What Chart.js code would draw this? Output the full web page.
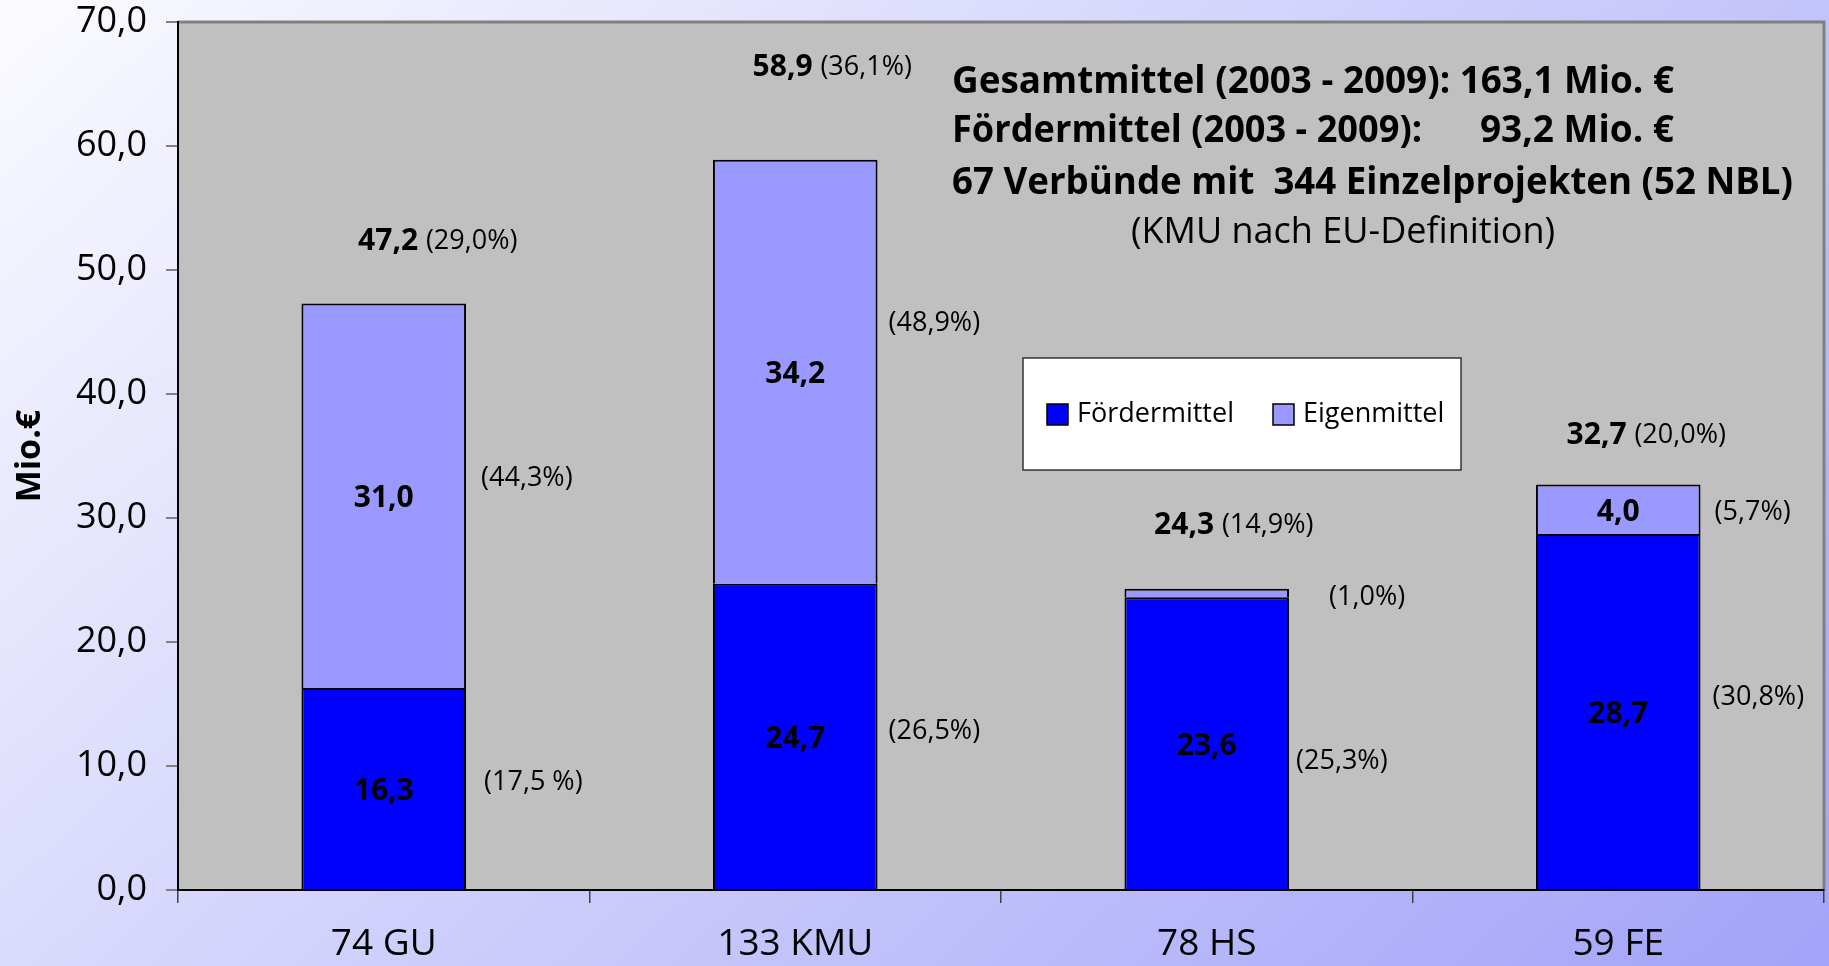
<!DOCTYPE html>
<html>
<head>
<meta charset="utf-8">
<script src="https://cdn.jsdelivr.net/npm/chart.js@4/dist/chart.umd.min.js"></script>
<style>
  html, body { margin: 0; padding: 0; overflow: hidden; }
  canvas { display: block; }
</style>
</head>
<body>
<canvas id="mittel" width="1829" height="966"></canvas>
<script>
// values in Mio. €
const categories = ['74 GU', '133 KMU', '78 HS', '59 FE'];
const foerdermittel = [16.3, 24.7, 23.6, 28.7];
const eigenmittel = [31.0, 34.2, 0.7, 4.0];
const totals = [47.2, 58.9, 24.3, 32.7];
const totalShare = ['(29,0%)', '(36,1%)', '(14,9%)', '(20,0%)'];
const foerderShare = ['(17,5 %)', '(26,5%)', '(25,3%)', '(30,8%)'];
const eigenShare = ['(44,3%)', '(48,9%)', '(1,0%)', '(5,7%)'];
const yMax = 70;
const yStep = 10;

// label placement tweaks (px)
const totalOffset = [[54, -62], [37, -92], [27, -63], [28, -49]];
const foerderPctOffset = [[18, -6], [11, -5], [7, 18], [12, -14]];
const eigenPctOffset = [[15, -17], [11, -48], [40, 4], [14, 3]];
const innerNudge = 3;

const FONT = '"Open Sans", "Noto Sans", sans-serif';
const fmt = v => v.toFixed(1).replace('.', ',');

const background = {
  id: 'background',
  beforeDraw(chart) {
    const {ctx, width, height, chartArea: a} = chart;
    ctx.save();
    const g = ctx.createLinearGradient(0, 0, 1508, 1659);
    g.addColorStop(0, '#fbfbff');
    g.addColorStop(1, '#9595f8');
    ctx.fillStyle = g;
    ctx.fillRect(0, 0, width, height);
    ctx.fillStyle = '#c0c0c0';
    ctx.fillRect(a.left, a.top, a.right - a.left, a.bottom - a.top);
    ctx.strokeStyle = '#808080';
    ctx.lineWidth = 3;
    ctx.beginPath();
    ctx.moveTo(a.left, a.top);
    ctx.lineTo(a.right, a.top);
    ctx.lineTo(a.right, a.bottom);
    ctx.stroke();
    ctx.restore();
  }
};

const labels = {
  id: 'labels',
  afterDatasetsDraw(chart) {
    const {ctx} = chart;
    const low = chart.getDatasetMeta(0).data;
    const high = chart.getDatasetMeta(1).data;
    ctx.save();
    ctx.fillStyle = '#000';
    ctx.textBaseline = 'middle';
    categories.forEach((c, i) => {
      const b0 = low[i], b1 = high[i];
      const half = b0.width / 2;
      // values inside segments
      ctx.font = 'bold 30px ' + FONT;
      ctx.textAlign = 'center';
      const m0 = (b0.y + b0.base) / 2;
      const m1 = (b1.y + b1.base) / 2;
      if (b0.base - b0.y > 30) ctx.fillText(fmt(foerdermittel[i]), b0.x, m0 + innerNudge);
      if (b1.base - b1.y > 30) ctx.fillText(fmt(eigenmittel[i]), b1.x, m1 + innerNudge);
      // shares right of the bar
      ctx.font = '27px ' + FONT;
      ctx.textAlign = 'left';
      ctx.fillText(foerderShare[i], b0.x + half + foerderPctOffset[i][0], m0 + foerderPctOffset[i][1]);
      ctx.fillText(eigenShare[i], b1.x + half + eigenPctOffset[i][0], m1 + eigenPctOffset[i][1]);
      // total on top
      ctx.font = 'bold 30px ' + FONT;
      const t1 = fmt(totals[i]) + ' ';
      const w1 = ctx.measureText(t1).width;
      ctx.font = '27px ' + FONT;
      const w2 = ctx.measureText(totalShare[i]).width;
      const x0 = b1.x + totalOffset[i][0] - (w1 + w2) / 2;
      const y0 = b1.y + totalOffset[i][1];
      ctx.font = 'bold 30px ' + FONT;
      ctx.fillText(t1, x0, y0);
      ctx.font = '27px ' + FONT;
      ctx.fillText(totalShare[i], x0 + w1, y0);
    });
    ctx.restore();
  }
};

const infoBox = {
  id: 'infoBox',
  afterDraw(chart) {
    const {ctx} = chart;
    ctx.save();
    ctx.fillStyle = '#000';
    ctx.textBaseline = 'middle';
    ctx.font = 'bold 37px ' + FONT;
    ctx.textAlign = 'left';
    ctx.fillText('Gesamtmittel (2003 - 2009): 163,1 Mio. €', 952, 82, 722);
    ctx.fillText('Fördermittel (2003 - 2009):', 952, 131, 470);
    ctx.fillText('67 Verbünde mit  344 Einzelprojekten (52 NBL)', 952, 183, 841);
    ctx.textAlign = 'right';
    ctx.fillText('93,2 Mio. €', 1674, 131);
    ctx.font = '36px ' + FONT;
    ctx.textAlign = 'center';
    ctx.fillText('(KMU nach EU-Definition)', 1343, 233);

    // legend box
    ctx.fillStyle = '#fff';
    ctx.fillRect(1023, 358, 438, 112);
    ctx.strokeStyle = '#333';
    ctx.lineWidth = 1.5;
    ctx.strokeRect(1023, 358, 438, 112);
    const items = [[1047, 1077], [1273, 1303]];
    chart.data.datasets.forEach((ds, k) => {
      const [sx, tx] = items[k];
      ctx.fillStyle = ds.backgroundColor;
      ctx.fillRect(sx, 404, 21, 21);
      ctx.strokeStyle = '#000';
      ctx.lineWidth = 1.5;
      ctx.strokeRect(sx, 404, 21, 21);
      ctx.fillStyle = '#000';
      ctx.font = '27px ' + FONT;
      ctx.textAlign = 'left';
      ctx.fillText(ds.label, tx, 414);
    });
    ctx.restore();
  }
};

new Chart('mittel', {
  type: 'bar',
  data: {
    labels: categories,
    datasets: [{
      label: 'Fördermittel',
      data: foerdermittel,
      backgroundColor: '#0000ff',
      borderColor: '#000',
      borderWidth: 2
    }, {
      label: 'Eigenmittel',
      data: eigenmittel,
      backgroundColor: '#9999ff',
      borderColor: '#000',
      borderWidth: 2
    }]
  },
  options: {
    responsive: false,
    animation: false,
    layout: { padding: { top: 22, right: 5, left: 0, bottom: 0 } },
    datasets: { bar: { categoryPercentage: 1, barPercentage: 0.4 } },
    plugins: {
      legend: { display: false },
      tooltip: { enabled: false }
    },
    scales: {
      x: {
        stacked: true,
        grid: { offset: true, drawOnChartArea: false, tickLength: 13, color: '#404040', lineWidth: 1.5 },
        border: { color: '#000', width: 2 },
        ticks: { color: '#000', padding: 19, font: { family: FONT, size: 37 } },
        afterFit: s => { s.height = 76; }
      },
      y: {
        stacked: true,
        min: 0,
        max: yMax,
        ticks: {
          stepSize: yStep,
          color: '#000',
          padding: 19,
          font: { family: FONT, size: 36 },
          callback: v => fmt(v)
        },
        grid: { drawOnChartArea: false, tickLength: 12, color: '#808080', lineWidth: 2 },
        border: { color: '#000', width: 2 },
        title: {
          display: true,
          text: 'Mio.€',
          color: '#000',
          font: { family: FONT, size: 34, weight: 'bold' },
          padding: { top: 10, bottom: 0 }
        },
        afterFit: s => { s.width = 178; s.paddingTop = 0; s.paddingBottom = 0; }
      }
    }
  },
  plugins: [background, labels, infoBox]
});
</script>
</body>
</html>
